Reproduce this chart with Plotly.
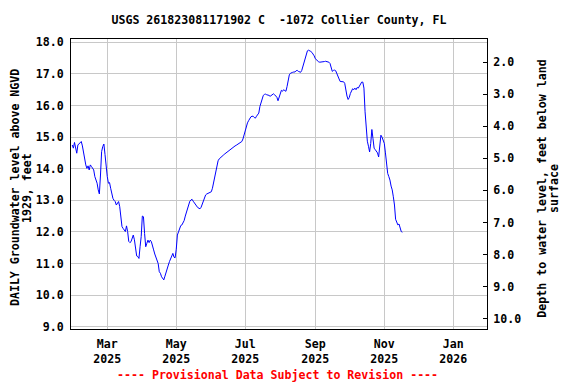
import pandas as pd
import plotly.graph_objects as go

# Daily groundwater level (feet above NGVD 1929)
lev_jan = [14.75, 14.65, 14.83]  # starts Jan 29, 2025
lev_feb = [14.70, 14.49, 14.75, 14.80, 14.83, 14.86, 14.72, 14.49, 14.22, 14.12,
           14.01, 14.09, 13.96, 14.12, 14.07, 14.02, 13.96, 13.75, 13.65, 13.54,
           13.33, 13.20, 13.80, 14.54, 14.70, 14.78, 14.45, 14.00]
lev_mar = [13.75, 13.54, 13.56, 13.38, 13.17, 13.06, 13.00, 12.96, 12.85, 12.90,
           12.96, 12.80, 12.45, 12.17, 12.11, 12.04, 12.01, 12.19, 12.01, 11.70,
           11.66, 11.69, 11.80, 11.90, 11.75, 11.40, 11.24, 11.22, 11.16, 11.53, 11.85]
lev_apr = [12.50, 12.48, 11.95, 11.53, 11.64, 11.74, 11.66, 11.74, 11.69, 11.59,
           11.43, 11.30, 11.20, 11.10, 11.00, 10.74, 10.69, 10.58, 10.52, 10.48,
           10.60, 10.74, 10.85, 10.95, 11.06, 11.15, 11.27, 11.32, 11.20, 11.18]
lev_may = [11.45, 11.90, 12.00, 12.12, 12.20, 12.22, 12.28, 12.36, 12.50, 12.62,
           12.72, 12.88, 12.97, 13.01, 13.03, 12.97, 12.93, 12.88, 12.82, 12.77,
           12.74, 12.73, 12.78, 12.88, 12.98, 13.12, 13.17, 13.20, 13.22, 13.23, 13.24]
lev_jun = [13.27, 13.38, 13.55, 13.72, 13.92, 14.08, 14.25, 14.31, 14.35, 14.38,
           14.41, 14.44, 14.47, 14.50, 14.54, 14.57, 14.60, 14.62, 14.645, 14.67,
           14.70, 14.72, 14.74, 14.76, 14.78, 14.80, 14.82, 14.86, 14.94, 15.07]
lev_jul = [15.18, 15.37, 15.45, 15.52, 15.60, 15.64, 15.66, 15.66, 15.62, 15.60,
           15.66, 15.70, 15.76, 15.97, 16.08, 16.22, 16.32, 16.35, 16.36, 16.34,
           16.34, 16.32, 16.29, 16.32, 16.36, 16.37, 16.34, 16.30, 16.26, 16.15, 16.26]
lev_aug = [16.40, 16.48, 16.45, 16.50, 16.47, 16.45, 16.60, 16.87, 16.97, 17.02,
           17.05, 17.05, 17.06, 17.06, 17.10, 17.11, 17.08, 17.06, 17.05, 17.11,
           17.24, 17.35, 17.50, 17.66, 17.73, 17.75, 17.74, 17.71, 17.68, 17.63, 17.57]
lev_sep = [17.48, 17.44, 17.40, 17.38, 17.37, 17.37, 17.38, 17.38, 17.39, 17.40,
           17.39, 17.38, 17.37, 17.33, 17.22, 17.08, 17.11, 17.12, 17.10, 17.03,
           16.93, 16.84, 16.76, 16.76, 16.76, 16.75, 16.70, 16.45, 16.30, 16.19]
lev_oct = [16.25, 16.38, 16.47, 16.53, 16.50, 16.55, 16.50, 16.57, 16.55, 16.63,
           16.70, 16.74, 16.74, 16.55, 15.80, 15.25, 14.87, 14.71, 14.53, 14.80,
           15.24, 14.95, 14.65, 14.60, 14.55, 14.50, 14.37, 14.70, 15.06, 15.00, 14.87]
lev_nov = [14.80, 14.50, 14.06, 13.85, 13.75, 13.64, 13.45, 13.33, 13.11, 12.85,
           12.40, 12.27, 12.22, 12.25, 12.11, 12.01, 11.99]

month_starts = ["2025-01-29", "2025-02-01", "2025-03-01", "2025-04-01", "2025-05-01",
                "2025-06-01", "2025-07-01", "2025-08-01", "2025-09-01", "2025-10-01",
                "2025-11-01"]
month_levels = [lev_jan, lev_feb, lev_mar, lev_apr, lev_may, lev_jun, lev_jul,
                lev_aug, lev_sep, lev_oct, lev_nov]

x_tick_vals = ["2025-03-01", "2025-05-01", "2025-07-01", "2025-09-01", "2025-11-01", "2026-01-01"]
x_tick_text = ["Mar<br>2025", "May<br>2025", "Jul<br>2025", "Sep<br>2025", "Nov<br>2025", "Jan<br>2026"]
left_ticks = [9, 10, 11, 12, 13, 14, 15, 16, 17, 18]
right_ticks = [2, 3, 4, 5, 6, 7, 8, 9, 10]

left_title = ["DAILY Groundwater level above NGVD", "1929, feet"]
right_title = ["Depth to water level, feet below land", "surface"]

dates = []
levels = []
for start, vals in zip(month_starts, month_levels):
    dates.extend(pd.date_range(start, periods=len(vals), freq="D"))
    levels.extend(vals)

FONT = "DejaVu Sans Mono"
FS = 11.6
# the page body adds an 8px offset; the figure is sized to fill the rest of the window
W, H = 568, 376
PLOT_L, PLOT_W = 71, 416  # plot area in window pixels


def px_to_paper_x(px):
    return (px - PLOT_L) / PLOT_W


fig = go.Figure()
fig.add_trace(go.Scatter(x=dates, y=levels, mode="lines",
                         line=dict(color="#0000ff", width=1), showlegend=False,
                         hoverinfo="skip"))
fig.add_trace(go.Scatter(x=[], y=[], yaxis="y2", mode="lines", showlegend=False,
                         hoverinfo="skip"))

title_font = dict(family=FONT, size=FS, color="black", weight="bold")
annots = []
for txt, px in zip(left_title, [15.0, 27.0]):
    annots.append(dict(text=txt, xref="paper", yref="paper", x=px_to_paper_x(px), y=0.486,
                       xanchor="center", yanchor="middle", textangle=-90, showarrow=False,
                       font=title_font))
for txt, px in zip(right_title, [541.7, 554.0]):
    annots.append(dict(text=txt, xref="paper", yref="paper", x=px_to_paper_x(px), y=0.483,
                       xanchor="center", yanchor="middle", textangle=-90, showarrow=False,
                       font=title_font))
annots.append(dict(text="---- Provisional Data Subject to Revision ----",
                   xref="paper", yref="paper", x=px_to_paper_x(277.5), y=-(375 - 329) / 290,
                   xanchor="center", yanchor="middle", showarrow=False,
                   font=dict(family=FONT, size=FS, color="red", weight="bold")))

fig.update_layout(
    width=W, height=H,
    margin=dict(l=63, r=89, t=31, b=55, autoexpand=False),
    paper_bgcolor="white", plot_bgcolor="white",
    font=dict(family=FONT, size=FS, color="black", weight="bold"),
    title=dict(text="USGS 261823081171902 C  -1072 Collier County, FL",
               x=(271 / W), xanchor="center", xref="container",
               y=1 - 12 / H, yanchor="middle", yref="container",
               font=title_font),
    xaxis=dict(range=["2025-01-27 22:00", "2026-01-30 20:00"],
               tickvals=x_tick_vals, ticktext=x_tick_text,
               showgrid=True, gridcolor="#c8c8c8", gridwidth=1,
               showline=True, linecolor="black", linewidth=1, mirror=True,
               ticks="", ticklabelstandoff=4, zeroline=False),
    yaxis=dict(range=[8.927, 18.104], tickvals=left_ticks, tickformat=".1f",
               showgrid=True, gridcolor="#c8c8c8", gridwidth=1,
               showline=True, linecolor="black", linewidth=1,
               ticks="", ticklabelstandoff=4, zeroline=False),
    yaxis2=dict(range=[10.32, 1.283], overlaying="y", side="right",
                tickvals=right_ticks, tickformat=".1f", showgrid=False,
                showline=True, linecolor="black", linewidth=1,
                ticks="inside", ticklen=4, tickcolor="black",
                ticklabelstandoff=3, zeroline=False),
    annotations=annots,
)

fig.write_html("out.html")
